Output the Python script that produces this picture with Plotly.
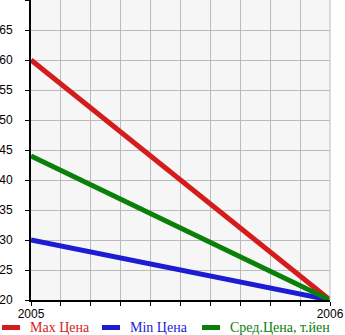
import plotly.graph_objects as go

years = [2005, 2006]
max_price = [60, 20]
min_price = [30, 20]
avg_price = [44, 20]

series_names = ["Max Цена", "Min Цена", "Сред.Цена, т.йен"]
series_colors = ["#d41c1c", "#1c1cd4", "#0a800a"]
series_values = [max_price, min_price, avg_price]

x_ticks = [2005 + i / 10 for i in range(11)]
x_text = ["2005"] + [""] * 9 + ["2006"]
y_ticks = [20, 25, 30, 35, 40, 45, 50, 55, 60, 65, 70]

fig = go.Figure()
for name, color, vals in zip(series_names, series_colors, series_values):
    fig.add_trace(go.Scatter(x=years, y=vals, mode="lines", name=name,
                             line=dict(color=color, width=5), showlegend=False))

W, H = 345, 335
ml, mr, mt, mb = 31, 15, 0, 35
plot_h = H - mt - mb
plot_w = W - ml - mr

fig.update_layout(
    width=W, height=H,
    margin=dict(l=ml, r=mr, t=mt, b=mb, autoexpand=False),
    paper_bgcolor="white",
    plot_bgcolor="#f6f6f6",
    font=dict(family="Liberation Sans", size=11, color="black"),
    xaxis=dict(range=[2005, 2006], tickvals=x_ticks, ticktext=x_text,
               showgrid=True, gridcolor="#bbbbbb", gridwidth=1,
               showline=True, linecolor="black", linewidth=2,
               ticks="outside", ticklen=4, tickcolor="black", tickwidth=1,
               tickfont=dict(family="Liberation Sans", size=12),
               ticklabelstandoff=-2,
               zeroline=False, automargin=False),
    yaxis=dict(range=[20, 70], tickvals=y_ticks,
               showgrid=True, gridcolor="#bbbbbb", gridwidth=1,
               showline=True, linecolor="black", linewidth=2,
               ticks="outside", ticklen=4, tickcolor="black", tickwidth=1,
               tickfont=dict(family="Liberation Sans", size=12),
               ticklabelstandoff=10, zeroline=False, automargin=False),
    shapes=[dict(type="line", xref="paper", yref="paper", x0=1, x1=1, y0=0, y1=1,
                 line=dict(color="#bbbbbb", width=1))],
)


def px_to_paper_x(px):
    return (px - ml) / plot_w


def px_to_paper_y(py):
    return (H - mb - py) / plot_h


# Legend below the plot: short thick line sample followed by colored text
legend_x = [0, 100, 200]
ly = 327.5
for name, color, lx in zip(series_names, series_colors, legend_x):
    fig.add_shape(type="line", xref="paper", yref="paper",
                  x0=px_to_paper_x(lx + 2), x1=px_to_paper_x(lx + 20),
                  y0=px_to_paper_y(ly), y1=px_to_paper_y(ly),
                  line=dict(color=color, width=5))
    fig.add_annotation(xref="paper", yref="paper",
                       x=px_to_paper_x(lx + 28), y=px_to_paper_y(ly),
                       xanchor="left", yanchor="middle", showarrow=False,
                       text=name, font=dict(family="Liberation Serif", size=14, color=color))

fig.write_html("out.html")
